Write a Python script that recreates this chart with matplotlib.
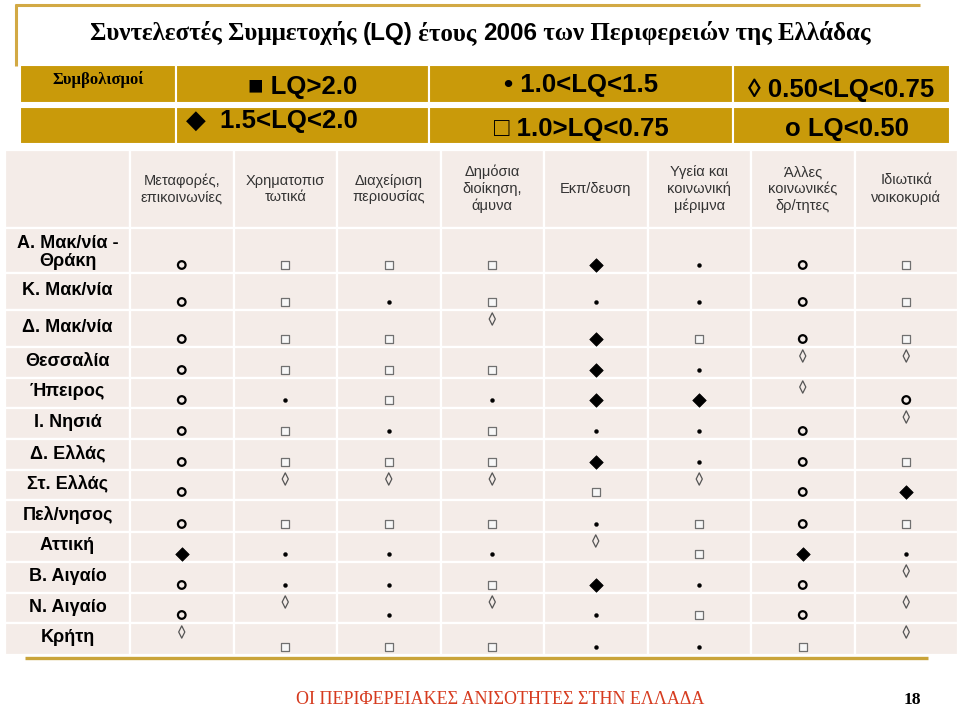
import matplotlib
matplotlib.use("Agg")
import matplotlib.pyplot as plt
from matplotlib.patches import Rectangle
from matplotlib.path import Path

# --- data ---
title_parts = ["Συντελεστές Συμμετοχής ", "(LQ)", " έτους ", "2006", " των Περιφερειών της Ελλάδας"]
title_sans = [False, True, False, True, False]

legend_head = "Συμβολισμοί"
legend_row1 = ["■ LQ>2.0", "• 1.0<LQ<1.5", "◊ 0.50<LQ<0.75"]
legend_row2 = ["◆  1.5<LQ<2.0", "□ 1.0>LQ<0.75", "o LQ<0.50"]

sectors = ["Μεταφορές,\nεπικοινωνίες", "Χρηματοπισ\nτωτικά", "Διαχείριση\nπεριουσίας",
           "Δημόσια\nδιοίκηση,\nάμυνα", "Εκπ/δευση", "Υγεία και\nκοινωνική\nμέριμνα",
           "Άλλες\nκοινωνικές\nδρ/τητες", "Ιδιωτικά\nνοικοκυριά"]

regions = ["Α. Μακ/νία -\nΘράκη", "Κ. Μακ/νία", "Δ. Μακ/νία", "Θεσσαλία", "Ήπειρος",
           "Ι. Νησιά", "Δ. Ελλάς", "Στ. Ελλάς", "Πελ/νησος", "Αττική",
           "Β. Αιγαίο", "Ν. Αιγαίο", "Κρήτη"]

# LQ class of each region (row) per sector (column)
# D: 1.5<LQ<2.0  d: 1.0<LQ<1.5  s: 0.75<LQ<1.0  v: 0.50<LQ<0.75  o: LQ<0.50
lq_class = [
    "osssDdos",
    "osdsddos",
    "ossvDsos",
    "osssDdvv",
    "odsdDDvo",
    "osdsddov",
    "osssDdos",
    "ovvvsvoD",
    "osssdsos",
    "DdddvsDd",
    "oddsDdov",
    "ovdvdsov",
    "vsssddsv",
]

footer = "ΟΙ ΠΕΡΙΦΕΡΕΙΑΚΕΣ ΑΝΙΣΟΤΗΤΕΣ ΣΤΗΝ ΕΛΛΑΔΑ"
page_no = "18"

# --- layout (pixel coords) ---
col_edges = [5, 130, 233.5, 337, 440.5, 544, 647.5, 751, 854.5, 958]
row_edges = [150, 228, 273, 310, 347, 378, 408, 439, 470, 500, 532, 562, 593, 623, 655]
leg_cols = [20, 176, 429, 733, 950]
leg_rows = [(65, 103), (107, 144)]
GOLD = "#C99A0A"
CELL = "#F4ECE8"

lozenge = Path([(0, 1), (0.5, 0), (0, -1), (-0.5, 0), (0, 1)],
               [Path.MOVETO, Path.LINETO, Path.LINETO, Path.LINETO, Path.CLOSEPOLY])
diamond = Path([(0, 1), (1, 0), (0, -1), (-1, 0), (0, 1)],
               [Path.MOVETO, Path.LINETO, Path.LINETO, Path.LINETO, Path.CLOSEPOLY])
styles = {
    "D": dict(marker=diamond, s=95, facecolors="black", edgecolors="black", linewidths=0.5),
    "d": dict(marker="o", s=8, facecolors="black", edgecolors="black", linewidths=0.3),
    "s": dict(marker="s", s=30, facecolors="#f7f7f7", edgecolors="#707070", linewidths=0.9),
    "v": dict(marker=lozenge, s=78, facecolors="none", edgecolors="#555555", linewidths=0.9),
    "o": dict(marker="o", s=30, facecolors="none", edgecolors="black", linewidths=1.6),
}

fig = plt.figure(figsize=(9.6, 7.12), dpi=100)
ax = fig.add_axes([0, 0, 1, 1])
ax.set_xlim(0, 960)
ax.set_ylim(712, 0)
ax.axis("off")

# frame lines
ax.plot([15, 920], [5, 5], color="#D2A944", lw=2.2, solid_capstyle="butt")
ax.plot([16, 16], [4, 66], color="#D2A944", lw=2.2, solid_capstyle="butt")
ax.plot([25, 928], [657.5, 657.5], color="#C9A43A", lw=2.4, solid_capstyle="butt")

# title, mixed serif / sans pieces, centred
renderer = fig.canvas.get_renderer()
pieces = []
x = 0
for part, sans in zip(title_parts, title_sans):
    if sans:
        t = ax.text(x, 40, part, fontsize=17.5, family="Liberation Sans", weight="bold",
                    ha="left", va="baseline")
    else:
        t = ax.text(x, 40, part, fontsize=18, family="Liberation Serif", weight="bold",
                    ha="left", va="baseline")
    bb = t.get_window_extent(renderer)
    pieces.append((t, x))
    x += bb.width
shift = 480 - x / 2
for t, px in pieces:
    t.set_x(px + shift)

# legend block
for (y0, y1) in leg_rows:
    for c0, c1 in zip(leg_cols[:-1], leg_cols[1:]):
        ax.add_patch(Rectangle((c0, y0), c1 - c0, y1 - y0, facecolor=GOLD, edgecolor="white", lw=1.5))
ax.text((leg_cols[0] + leg_cols[1]) / 2, 79, legend_head, fontsize=12, family="Liberation Serif",
        weight="bold", ha="center", va="center")
leg_fam = ["Liberation Sans", "DejaVu Sans"]
row1_y = [87, 85, 90]
for i, lab in enumerate(legend_row1):
    ax.text((leg_cols[i + 1] + leg_cols[i + 2]) / 2, row1_y[i], lab, fontsize=18.5, family=leg_fam,
            weight="bold", ha="center", va="center")
ax.text(186, 121, legend_row2[0], fontsize=18.5, family=leg_fam, weight="bold", ha="left", va="center")
for i, lab in enumerate(legend_row2[1:], start=1):
    ax.text((leg_cols[i + 1] + leg_cols[i + 2]) / 2 + (5 if i == 2 else 0), 129, lab, fontsize=18.5,
            family=leg_fam, weight="bold", ha="center", va="center")

# table cells
for r0, r1 in zip(row_edges[:-1], row_edges[1:]):
    for c0, c1 in zip(col_edges[:-1], col_edges[1:]):
        ax.add_patch(Rectangle((c0, r0), c1 - c0, r1 - r0, facecolor=CELL, edgecolor="white", lw=1.6))

hdr_y = (row_edges[0] + row_edges[1]) / 2
for j, name in enumerate(sectors):
    cx = (col_edges[j + 1] + col_edges[j + 2]) / 2
    ax.text(cx, hdr_y, name, fontsize=10.5, family="Liberation Sans", color="#333333",
            ha="center", va="center", linespacing=1.25)

lab_x = (col_edges[0] + col_edges[1]) / 2
for i, name in enumerate(regions):
    top, bot = row_edges[i + 1], row_edges[i + 2]
    ax.text(lab_x, (top + bot) / 2 + (2 if i == 0 else -1), name, fontsize=13, family="Liberation Sans",
            weight="bold", ha="center", va="center", linespacing=1.15)

# symbols
pts = {k: ([], []) for k in styles}
for i, row in enumerate(lq_class):
    top, bot = row_edges[i + 1], row_edges[i + 2]
    for j, cls in enumerate(row):
        cx = (col_edges[j + 1] + col_edges[j + 2]) / 2
        cy = top + 9 if cls == "v" else bot - 8
        pts[cls][0].append(cx)
        pts[cls][1].append(cy)
for k, (xs, ys) in pts.items():
    ax.scatter(xs, ys, zorder=3, **styles[k])

# footer
ax.text(500, 700, footer, fontsize=13, family="Liberation Serif", color="#D63B1F",
        ha="center", va="center")
ax.text(904, 700, page_no, fontsize=12.5, family="Liberation Serif", weight="bold", color="black",
        ha="left", va="center")

fig.savefig("out.png", dpi=100)
